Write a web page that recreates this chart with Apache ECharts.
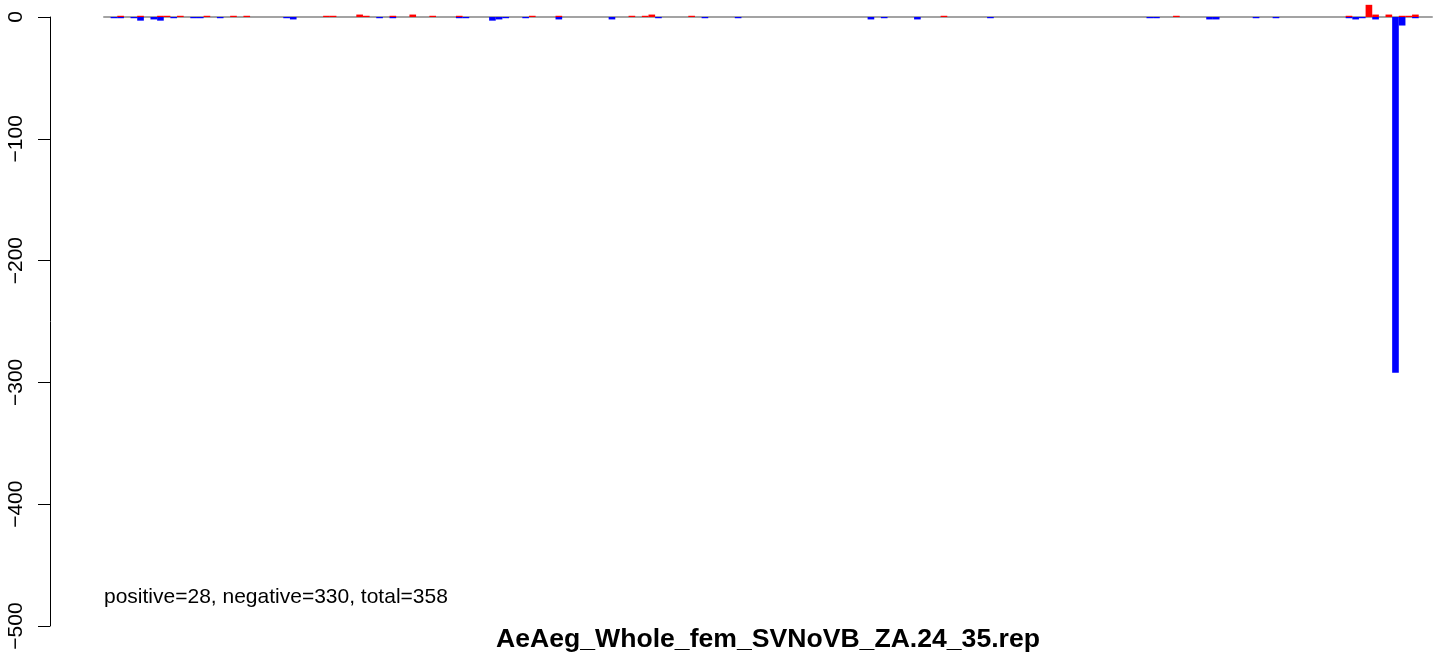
<!DOCTYPE html>
<html>
<head>
<meta charset="utf-8">
<script src="https://cdn.jsdelivr.net/npm/echarts@6/dist/echarts.min.js"></script>
<style>html,body{margin:0;padding:0;background:#fff;}#chart{width:1452px;height:656px;}</style>
</head>
<body>
<div id="chart"></div>
<script>
// Number of position slots along x
const slotCount = 200;
// Positive (red) bars: slot index and value
const posSlots  = [2,5,8,9,11,15,19,21,33,34,38,39,43,46,49,53,64,68,79,81,82,88,126,161,187,190,191,193,195,196,197];
const posValues = [1,1,1,1,1,1,1,1,1,1,2,1,1,2,1,1,1,1,1,1,2,1,1,1,1,10,2,2,1,1,2];
// Negative (blue) bars: slot index and value
const negSlots  = [1,2,4,5,7,8,10,13,14,17,27,28,41,43,53,54,58,59,60,63,68,76,83,90,95,115,117,122,133,157,158,166,167,173,176,187,188,189,191,194,195,197];
const negValues = [-1,-1,-1,-3,-2,-3,-1,-1,-1,-1,-1,-2,-1,-1,-1,-1,-3,-2,-1,-1,-2,-2,-1,-1,-1,-2,-1,-2,-1,-1,-1,-2,-2,-1,-1,-1,-2,-1,-2,-292,-7,-1];
const yTicks = [-500,-400,-300,-200,-100,0];
const titleText = "AeAeg_Whole_fem_SVNoVB_ZA.24_35.rep";
const noteText = "positive=28, negative=330, total=358";

const categories = [];
for (let i = 0; i < slotCount; i++) categories.push(String(i + 1));
const posData = new Array(slotCount).fill(0);
posSlots.forEach((s, k) => { posData[s] = posValues[k]; });
const negData = new Array(slotCount).fill(0);
negSlots.forEach((s, k) => { negData[s] = negValues[k]; });

const chart = echarts.init(document.getElementById('chart'), null, {renderer: 'canvas'});
const FONT = '"Liberation Sans", Arial, Helvetica, sans-serif';
chart.setOption({
  animation: false,
  backgroundColor: '#ffffff',
  grid: {left: 104, right: 20, top: 17, bottom: 30, containLabel: false},
  xAxis: {
    type: 'category', data: categories, position: 'top',
    axisLine: {show: true, onZero: false, lineStyle: {color: '#a3a3a3', width: 2}},
    axisTick: {show: false}, axisLabel: {show: false}, splitLine: {show: false}
  },
  yAxis: {
    type: 'value', min: yTicks[0], max: yTicks[yTicks.length - 1], interval: 100,
    offset: 54,
    axisLine: {show: true, lineStyle: {color: '#000', width: 1}},
    axisTick: {show: true, length: 12, lineStyle: {color: '#000', width: 1}},
    splitLine: {show: false},
    axisLabel: {
      rotate: 90, margin: 23, color: '#000', fontSize: 21, fontFamily: FONT,
      formatter: v => String(v).replace('-', '\u2212')
    }
  },
  series: [
    {type: 'bar', name: 'positive', stack: 'a', data: posData, barCategoryGap: '0%',
     itemStyle: {color: '#ff0000'}, clip: false},
    {type: 'bar', name: 'negative', stack: 'a', data: negData, barCategoryGap: '0%',
     itemStyle: {color: '#0000ff'}, clip: false}
  ],
  graphic: [
    {type: 'text', x: 104, y: 597, style: {text: noteText, font: '21px ' + FONT, fill: '#000', textAlign: 'left', textVerticalAlign: 'middle'}},
    {type: 'text', x: 768, y: 640, style: {text: titleText, font: 'bold 26.6px ' + FONT, fill: '#000', textAlign: 'center', textVerticalAlign: 'middle'}}
  ]
});
</script>
</body>
</html>
